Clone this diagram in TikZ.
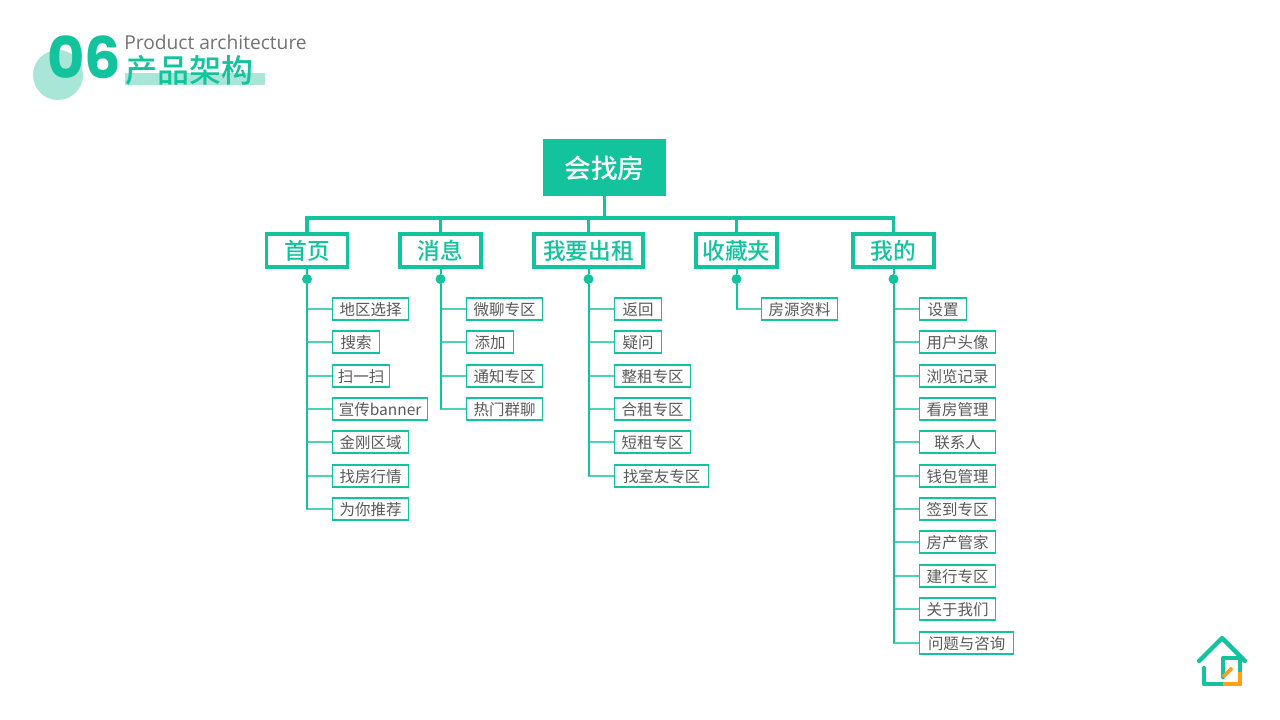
\documentclass[tikz,border=0pt]{standalone}
\usepackage{fontspec}
\setmainfont{Noto Sans CJK SC}
\newfontfamily\medfont{Noto Sans CJK SC Medium}
\newfontfamily\numfont{Poppins}
\newfontfamily\latinfont{Open Sans}
\usetikzlibrary{calc, positioning}
\definecolor{teal1}{HTML}{13C39D}
\definecolor{teal2}{HTML}{A9E6D8}
\definecolor{gray1}{HTML}{595959}
\definecolor{orange1}{HTML}{FF9F1A}
\tikzset{root/.style = {fill=teal1, text=white, minimum width=92.25pt, minimum height=42.75pt, inner sep=0pt, text height=18.5pt, text depth=1.5pt, font=\fontsize{20}{20}\selectfont\medfont}}
\tikzset{cat/.style = {draw=teal1, line width=2.6pt, fill=white, text=teal1, minimum height=24.5pt, inner sep=0pt, text height=15pt, text depth=1.2pt, font=\fontsize{17}{17}\selectfont\medfont}}
\tikzset{leaf/.style = {draw=teal1, line width=1pt, fill=white, text=gray1, minimum height=16.5pt, inner ysep=0pt, inner xsep=0pt, text height=11.4pt, text depth=1pt, font=\fontsize{11.6}{12}\selectfont}}
\tikzset{dot/.style = {fill=teal1, circle, inner sep=0pt, minimum size=7.5pt}}
\begin{document}
\begin{tikzpicture}[x=0.75pt, y=-0.75pt]
  \useasboundingbox (0,0) rectangle (1280,720);
  % header
  \fill[teal2] (58,75) circle (25);
  \fill[teal2] (125,73) rectangle (265,85);
  \node[inner sep=0pt, text=teal1, font=\fontsize{43}{43}\selectfont\numfont\bfseries] (num) at (84,57) {06};
  \node[inner sep=0pt, anchor=west, text=gray!90!black, font=\fontsize{14.4}{15}\selectfont\latinfont] (entitle) at (124,42) {Product architecture};
  \node[inner sep=0pt, anchor=west, text=teal1, font=\fontsize{24}{24}\selectfont\medfont] (cntitle) at (125,70) {产品架构};

  % tree
  \node[root] (top) at (604.5,167.5) {会找房};
  \coordinate (bar) at (604.5,218);
  \node[cat, minimum width=60.5pt] (c1) at (307,250.5) {首页};
  \node[cat, minimum width=60.5pt] (c2) at (440.5,250.5) {消息};
  \node[cat, minimum width=82pt] (c3) at (588.5,250.5) {我要出租};
  \node[cat, minimum width=60.5pt] (c4) at (736.5,250.5) {收藏夹};
  \node[cat, minimum width=60.5pt] (c5) at (893.5,250.5) {我的};
  \foreach \i in {1,...,5}
  {
    \node[dot] (d\i) at ($(c\i.south)+(0,10.5)$) {};
    \draw[teal1, line width=2.4pt, line cap=rect] (c\i.north) -- (c\i.north|-bar);
    \draw[teal1, line width=1.5pt] (c\i.south) -- (d\i);
  }
  \draw[teal1, line width=2.6pt] (top) -- (bar);
  \draw[teal1, line width=2.4pt] (c1.north|-bar) -- (c5.north|-bar);

  \foreach \c/\x/\list in
  {1/332/{地区选择/76,搜索/47,扫一扫/57,宣传banner/95,金刚区域/76,找房行情/76,为你推荐/76},
   2/466/{微聊专区/76,添加/47,通知专区/76,热门群聊/76},
   3/614/{返回/47,疑问/47,整租专区/76,合租专区/76,短租专区/76,找室友专区/94},
   4/761/{房源资料/76},
   5/919/{设置/47,用户头像/76,浏览记录/76,看房管理/76,联系人/76,钱包管理/76,签到专区/76,房产管家/76,建行专区/76,关于我们/76,问题与咨询/94}}
  {
    \foreach \t/\w [count=\n from 0] in \list
    {
      \node[leaf, anchor=west, minimum width=\w*0.75pt] (l\c-\n) at (\x,{round(309+33.35*\n)}) {\t};
      \draw[teal1!75, line width=1pt] (d\c) |- (l\c-\n.west);
      \draw[teal1, line width=1.5pt] (d\c) -- (d\c|-l\c-\n.west);
    }
  }

  % logo
  \draw[teal1, line width=3.2pt, line cap=round, line join=round] (1199,661) -- (1222,638) -- (1245,661);
  \draw[teal1, line width=3.2pt, line cap=round, line join=round] (1204,668) -- (1204,684) -- (1240,684) -- (1240,658) -- (1223,658) -- (1223,677);
  \draw[orange1, line width=3.2pt] (1223,684) -- (1240,684) -- (1240,672);
  \draw[orange1, line width=2.8pt] (1223,677) -- (1232,668);
\end{tikzpicture}
\end{document}
